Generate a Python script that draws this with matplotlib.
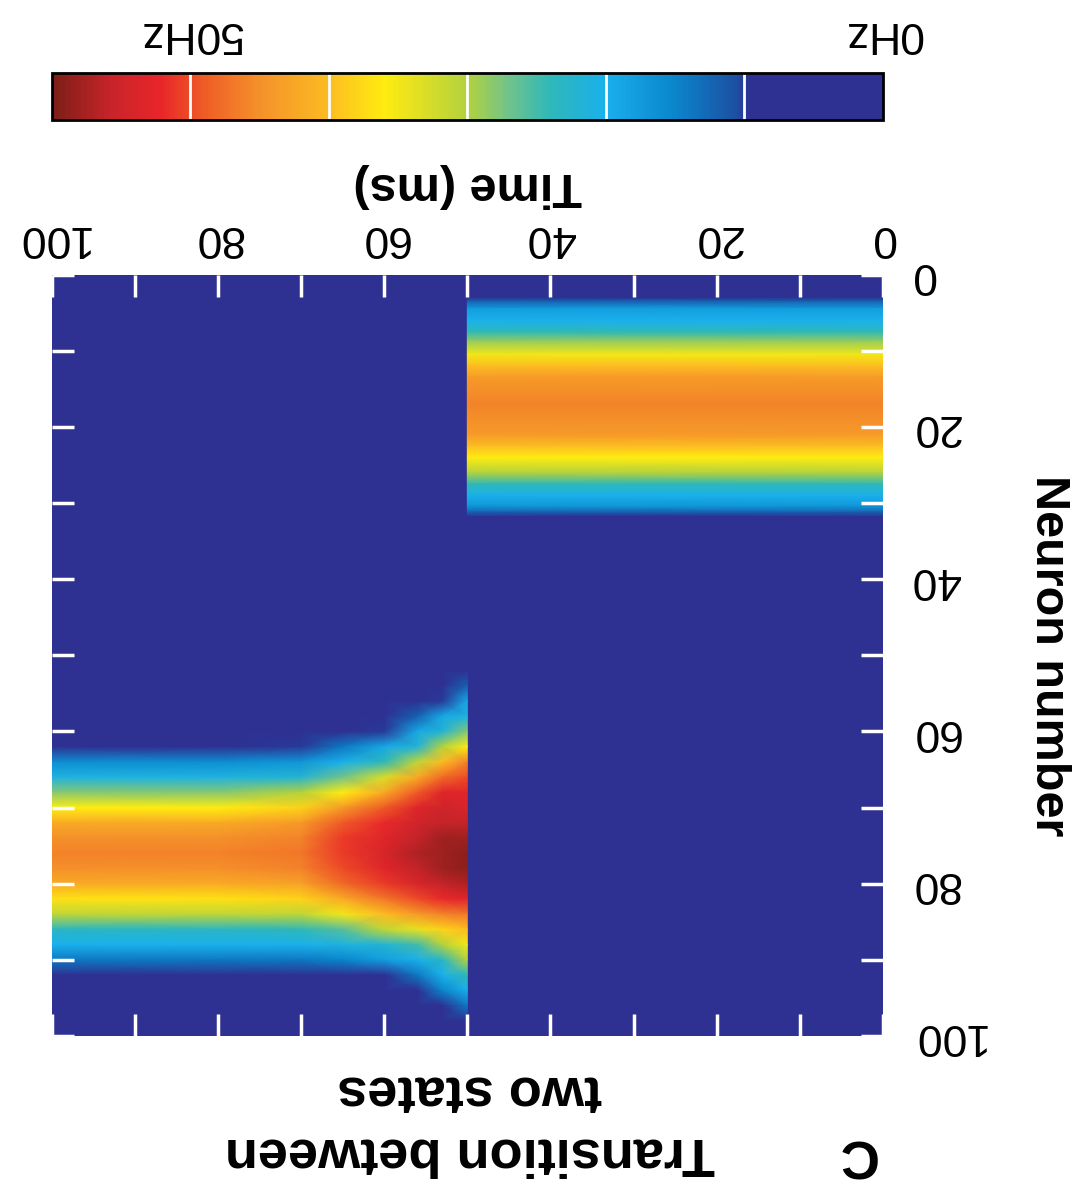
import numpy as np
import matplotlib.pyplot as plt
from matplotlib.colors import LinearSegmentedColormap, Normalize

plt.rcParams['font.family'] = ['Liberation Sans', 'DejaVu Sans']

# first assembly (0-50 ms): firing rate (Hz) across neurons, same at start and end
up_time = [0, 50]
up_neuron = [0, 3.0, 3.5, 4.5, 6, 7.5, 8.8, 10.5, 12, 13.5, 17, 21, 22.5, 24, 26, 27.5, 29, 30.4, 31.2, 31.8, 35]
up_rate = [0, 0, 12, 18, 20, 24, 29, 35, 40, 44, 46, 44, 40, 36, 30, 24, 20, 17, 12, 0, 0]

# second assembly (50-100 ms): rate at neurons 50,52,...,100 for each time column
low_time = [50, 53, 56, 60, 65, 70, 80, 100]
low_neuron = list(range(50, 101, 2))
rate_t50 = [0, 0, 12, 19, 21, 28, 36, 46, 50, 53, 54, 56, 58, 59, 59, 57, 53, 47, 40, 35, 30, 24, 20, 14, 6, 0]
rate_t53 = [0, 0, 0, 10, 19, 22, 30, 40, 48, 53, 55, 56, 58, 58, 58, 56, 52, 46, 38, 30, 23, 20, 15, 5, 0, 0]
rate_t56 = [0, 0, 0, 0, 12, 19, 22, 31, 42, 49, 53, 55, 56, 57, 56, 54, 50, 44, 34, 25, 20, 14, 5, 0, 0, 0]
rate_t60 = [0, 0, 0, 0, 0, 10, 19, 24, 33, 42, 49, 52, 53, 54, 53, 51, 47, 40, 31, 22, 18, 8, 0, 0, 0, 0]
rate_t65 = [0, 0, 0, 0, 0, 0, 14, 20, 27, 36, 44, 49, 51, 51, 50, 48, 42, 35, 26, 21, 15, 0, 0, 0, 0, 0]
rate_t70 = [0, 0, 0, 0, 0, 0, 10, 17, 22, 30, 38, 44, 46, 47, 46, 43, 38, 31, 24, 20, 14, 0, 0, 0, 0, 0]
rate_t80 = [0, 0, 0, 0, 0, 0, 8, 16, 21, 28, 36, 42, 45, 46, 45, 42, 37, 31, 23, 20, 14, 0, 0, 0, 0, 0]
rate_t100 = [0, 0, 0, 0, 0, 0, 8, 16, 21, 28, 36, 42, 45, 46, 45, 42, 37, 31, 23, 20, 14, 0, 0, 0, 0, 0]

time_ticks = list(range(0, 101, 10))
time_labels = ['0', '', '20', '', '40', '', '60', '', '80', '', '100']
neuron_ticks = list(range(0, 101, 10))
neuron_labels = ['0', '', '20', '', '40', '', '60', '', '80', '', '100']
cbar_lines = [10, 20, 30, 40, 50]
cbar_ticks = [0, 50]
cbar_labels = ['0Hz', '50Hz']

cmap = LinearSegmentedColormap.from_list('rate', [
    (0.00, '#2e3192'), (0.16, '#2e3192'), (0.175, '#1c4fa2'), (0.25, '#0a86cc'),
    (0.333, '#1ab0ec'), (0.40, '#2fb8b8'), (0.45, '#70c38a'), (0.50, '#b2d23e'),
    (0.57, '#e9e21e'), (0.60, '#ffec10'), (0.667, '#fcbc22'), (0.75, '#f4922a'),
    (0.82, '#ef5a26'), (0.87, '#e8262a'), (0.93, '#c8242a'), (1.00, '#7c1e18')])
norm = Normalize(0, 60)

fig = plt.figure(figsize=(10.78, 11.84), dpi=100)
ax = fig.add_axes([0.048, 0.125, 0.771, 0.643])
ax.set_facecolor(cmap(0))

ax.pcolormesh(up_time, up_neuron, np.column_stack([up_rate, up_rate]),
              shading='gouraud', cmap=cmap, norm=norm)
low = np.column_stack([rate_t50, rate_t53, rate_t56, rate_t60,
                       rate_t65, rate_t70, rate_t80, rate_t100])
mesh = ax.pcolormesh(low_time, low_neuron, low, shading='gouraud', cmap=cmap, norm=norm)

ax.set_xlim(100, 0)
ax.set_ylim(100, 0)
for s in ax.spines.values():
    s.set_visible(False)
ax.set_xticks(time_ticks)
ax.set_xticklabels(time_labels)
ax.set_yticks(neuron_ticks)
ax.set_yticklabels(neuron_labels)
ax.tick_params(direction='in', color='white', length=16, width=2.5,
               top=True, bottom=True, left=True, right=True,
               labeltop=True, labelbottom=False, labelleft=False, labelright=True,
               labelsize=32)
ax.tick_params(axis='x', labelrotation=180, pad=12)
ax.tick_params(axis='y', labelrotation=180, pad=20)
for t in ax.get_yticklabels():
    t.set_va('center')

ax.xaxis.set_label_position('top')
ax.set_xlabel('Time (ms)', rotation=180, fontsize=35, fontweight='bold', labelpad=14)
ax.yaxis.set_label_position('right')
ax.set_ylabel('Neuron number', rotation=270, fontsize=35, fontweight='bold', labelpad=62)

cax = fig.add_axes([0.048, 0.8986, 0.771, 0.0397])
cb = fig.colorbar(mesh, cax=cax, orientation='horizontal')
cax.invert_xaxis()
cb.outline.set_linewidth(2)
cb.set_ticks(cbar_ticks)
cb.set_ticklabels(cbar_labels)
cax.xaxis.set_ticks_position('top')
cax.tick_params(length=0, pad=14, labelsize=32, labelrotation=180)
for v in cbar_lines:
    cax.axvline(v, color='white', lw=2)

fig.text(0.436, 0.027, 'Transition between', rotation=180, ha='center', va='center',
         fontsize=39, fontweight='bold')
fig.text(0.436, 0.079, 'two states', rotation=180, ha='center', va='center',
         fontsize=39, fontweight='bold')
fig.text(0.794, 0.026, 'C', rotation=180, ha='center', va='center',
         fontsize=39, fontweight='bold')

fig.savefig('out.png', dpi=100)
